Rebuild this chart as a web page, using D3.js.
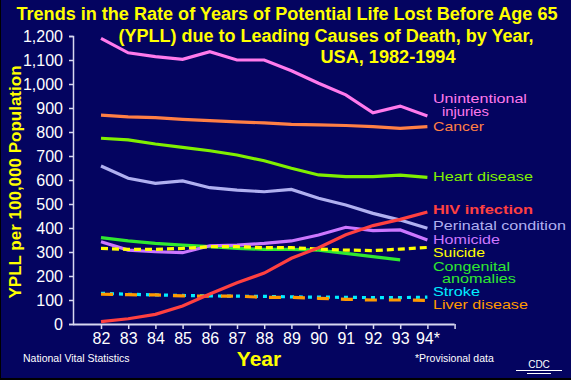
<!DOCTYPE html>
<html><head><meta charset="utf-8">
<script src="https://cdn.jsdelivr.net/npm/d3@7/dist/d3.min.js"></script>
<style>body{margin:0;background:#000;}svg{display:block;}</style>
</head><body>
<svg id="c" width="571" height="380"></svg>
<script>
const years = [82,83,84,85,86,87,88,89,90,91,92,93,94];
const yearLabels = ["82","83","84","85","86","87","88","89","90","91","92","93","94*"];
const yTicks = [0,100,200,300,400,500,600,700,800,900,1000,1100,1200];
const unintentional = [1190,1130,1114,1103,1135,1100,1100,1055,1003,955,880,908,867];
const cancer = [870,863,860,853,847,842,838,832,830,827,822,815,822];
const heart = [774,767,750,736,722,704,680,649,621,614,614,620,611];
const hiv = [10,22,40,75,125,172,212,274,318,372,410,436,467];
const perinatal = [658,607,586,596,568,558,551,561,524,496,461,433,399];
const homicide = [343,308,301,297,326,329,336,346,371,403,389,392,350];
const suicide = [315,311,311,315,322,322,318,318,312,308,306,312,319];
const congenital = [360,346,336,329,322,315,311,311,308,294,281,267,null];
const stroke = [128,124,121,119,117,116,115,113,112,111,110,110,112];
const liver = [124,122,121,117,116,116,111,111,107,103,100,100,98];

const series = [
  {name:"Unintentional", w:94, name2:"injuries", w2:47, v:unintentional, c:"#ff7aec", ly:99, dash:null},
  {name:"Cancer", w:51, v:cancer, c:"#ff7f45", ly:126.5, dash:null},
  {name:"Heart disease", w:100, v:heart, c:"#80f000", ly:177, dash:null},
  {name:"Perinatal condition", w:133, v:perinatal, c:"#b0b0f0", ly:226, dash:null},
  {name:"Congenital", w:77, name2:"anomalies", w2:74, v:congenital, c:"#30e830", ly:266.5, dash:null},
  {name:"Homicide", w:67, v:homicide, c:"#cc77ff", ly:240, dash:null},
  {name:"Suicide", w:52, v:suicide, c:"#ffff00", ly:253, dash:"7,4"},
  {name:"Stroke", w:47, v:stroke, c:"#00eeff", ly:291.5, dash:"4,5"},
  {name:"Liver disease", w:95, v:liver, c:"#ff9900", ly:305, dash:"12,12"},
  {name:"HIV infection", w:100, v:hiv, c:"#ff4040", ly:210, dash:null, bold:true}
];

const svg = d3.select("#c");
svg.append("rect").attr("width",571).attr("height",380).attr("fill","#000");
svg.append("rect").attr("x",1).attr("y",0).attr("width",570).attr("height",378).attr("fill","#040460");

const x = d3.scaleLinear().domain([82,95]).range([101, 454.6]);
const y = d3.scaleLinear().domain([0,1200]).range([324,36]);
const font = "'Liberation Sans', Arial, sans-serif";

// title
const title = [
  {t:"Trends in the Rate of Years of Potential Life Lost Before Age 65", cx:287, cy:14, w:541},
  {t:"(YPLL) due to Leading Causes of Death, by Year,", cx:326, cy:36, w:415},
  {t:"USA, 1982-1994", cx:388, cy:57, w:135}
];
title.forEach(d=>{
  svg.append("text").attr("x",d.cx).attr("y",d.cy).attr("text-anchor","middle")
    .attr("dominant-baseline","central").attr("font-family",font).attr("font-weight","bold")
    .attr("font-size",18).attr("fill","#ffff00").attr("textLength",d.w)
    .attr("lengthAdjust","spacingAndGlyphs").text(d.t);
});

// y axis
const yAxis = d3.axisLeft(y).tickValues(yTicks).tickSize(4).tickPadding(6)
  .tickFormat(d3.format(","));
const gy = svg.append("g").attr("transform","translate(73,0)").call(yAxis);
gy.select(".domain").attr("stroke","#d8d8f0").attr("stroke-width",1.5);
gy.selectAll(".tick line").attr("stroke","#d8d8f0").attr("stroke-width",1.5);
gy.selectAll(".tick text").attr("fill","#fff").attr("font-family",font).attr("font-size",16);

// x axis
const xAxis = d3.axisBottom(x).tickValues(years.concat([95])).tickSize(5).tickPadding(4)
  .tickFormat((d,i)=> i<yearLabels.length ? yearLabels[i] : "");
const gx = svg.append("g").attr("transform","translate(0,324)").call(xAxis);
gx.select(".domain").attr("d","M73,0.5H454.6").attr("stroke","#d8d8f0").attr("stroke-width",2);
gx.selectAll(".tick line").attr("stroke","#d8d8f0").attr("stroke-width",1.5);
gx.selectAll(".tick text").attr("fill","#fff").attr("font-family",font).attr("font-size",16);

// lines
const line = d3.line().defined(d=>d!=null).x((d,i)=>x(years[i])).y(d=>y(d));
series.forEach(s=>{
  svg.append("path").datum(s.v).attr("d",line).attr("fill","none")
    .attr("stroke",s.c).attr("stroke-width",3.2)
    .attr("stroke-dasharray",s.dash);
});

// labels (horizontally stretched glyphs to match the reference's wide lettering)
function stretchedLabel(tx, ty, txt, w, col, bold){
  const g = svg.append("g").attr("transform",`translate(${tx},${ty})`);
  const t = g.append("text").attr("x",0).attr("y",0).attr("dominant-baseline","central")
    .attr("font-family",font).attr("font-size",12.5).attr("fill",col)
    .attr("font-weight", bold ? "bold":"normal").text(txt);
  const len = t.node().getComputedTextLength();
  t.attr("transform",`scale(${w/len},1)`);
}
series.forEach(s=>{
  stretchedLabel(433, s.ly, s.name, s.w, s.c, s.bold);
  if(s.name2) stretchedLabel(442, s.ly+12.5, s.name2, s.w2, s.c, false);
});

// axis titles
svg.append("text").attr("transform","translate(15,182) rotate(-90)").attr("text-anchor","middle")
  .attr("dominant-baseline","central").attr("font-family",font).attr("font-weight","bold")
  .attr("font-size",17).attr("fill","#ffff00").text("YPLL per 100,000 Population");
svg.append("text").attr("x",259).attr("y",358).attr("text-anchor","middle")
  .attr("dominant-baseline","central").attr("font-family",font).attr("font-weight","bold")
  .attr("font-size",21).attr("fill","#ffff00").text("Year");

// notes
svg.append("text").attr("x",23).attr("y",358).attr("dominant-baseline","central")
  .attr("font-family",font).attr("font-size",10.5).attr("fill","#fff").text("National Vital Statistics");
svg.append("text").attr("x",415).attr("y",358).attr("dominant-baseline","central")
  .attr("font-family",font).attr("font-size",10.5).attr("fill","#fff").text("*Provisional data");
svg.append("text").attr("x",539).attr("y",364).attr("text-anchor","middle").attr("dominant-baseline","central")
  .attr("font-family",font).attr("font-size",10).attr("fill","#fff").text("CDC");
svg.append("line").attr("x1",516).attr("x2",562).attr("y1",370.5).attr("y2",370.5).attr("stroke","#fff").attr("stroke-width",1);
svg.append("line").attr("x1",527).attr("x2",551).attr("y1",373.5).attr("y2",373.5).attr("stroke","#fff").attr("stroke-width",1);
</script>
</body></html>
